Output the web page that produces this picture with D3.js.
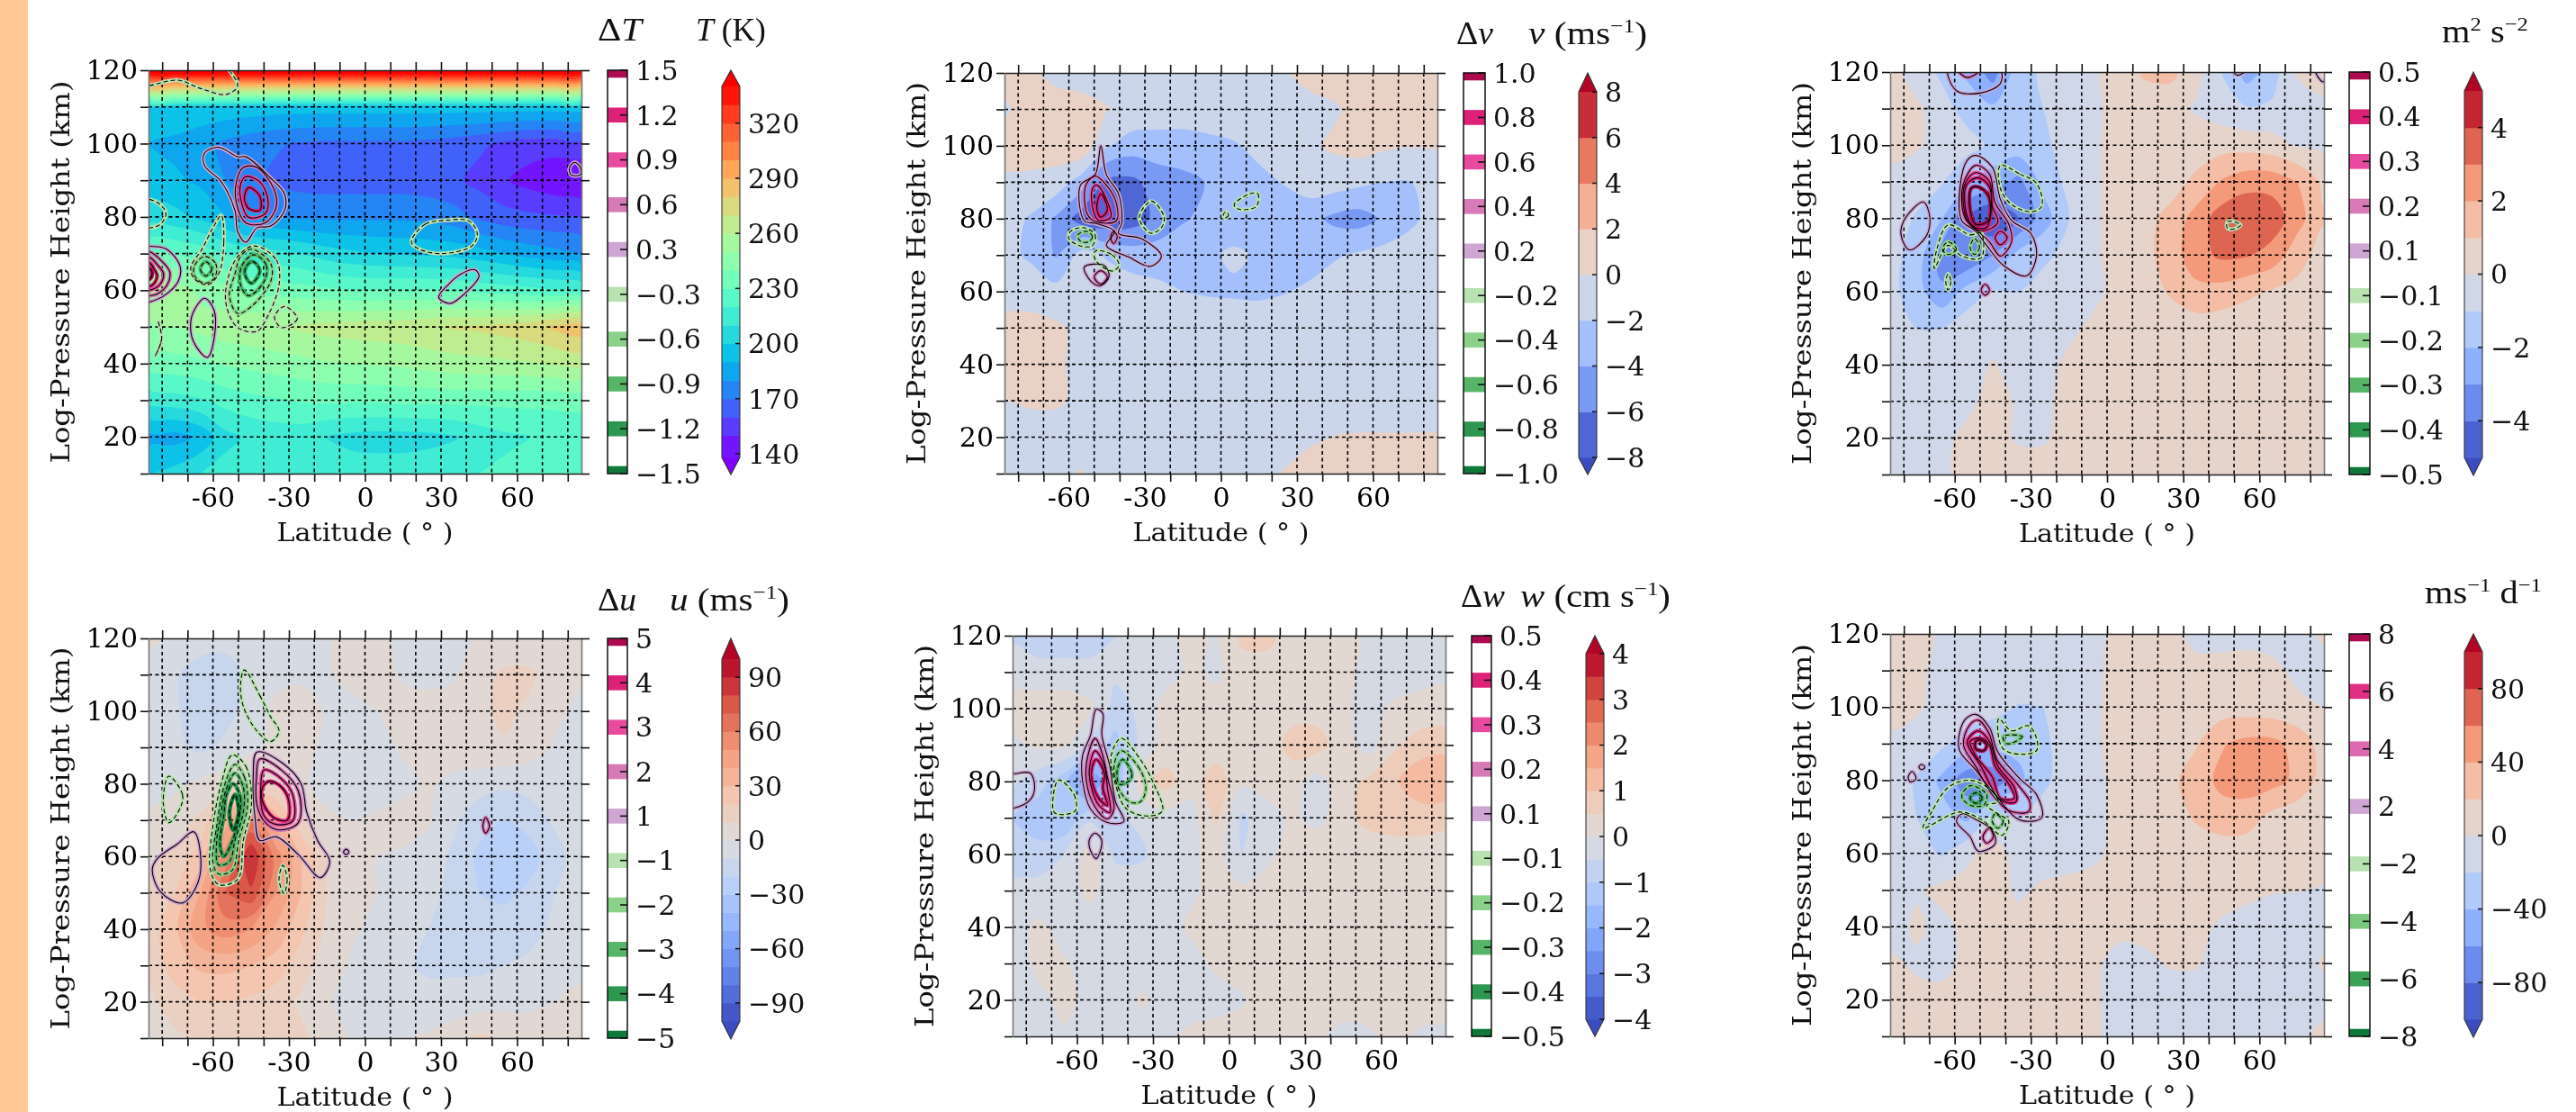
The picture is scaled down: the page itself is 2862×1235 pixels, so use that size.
<!DOCTYPE html>
<html>
<head>
<meta charset="utf-8">
<script src="https://cdn.jsdelivr.net/npm/d3@7"></script>
<style>
  html, body { margin: 0; padding: 0; background: #fff; overflow: hidden; }
  svg { display: block; filter: blur(0.5px); }
</style>
</head>
<body>
<svg id="chart" width="2862" height="1235"></svg>
<script>
// grid of the shaded fields: one column per latitude, one row per height (top row first)
const lats = [-85,-75,-65,-55,-45,-35,-25,-15,-5,5,15,25,35,45,55,65,75,85];
const heights = [120,110,100,90,80,70,60,50,40,30,20,10];
const latTicks = [-80,-70,-60,-50,-40,-30,-20,-10,0,10,20,30,40,50,60,70,80];
const latLabels = [-60,-30,0,30,60];
const heightTicks = [10,20,30,40,50,60,70,80,90,100,110,120];
const heightLabels = [20,40,60,80,100,120];

// T (K)
const tLevels = [138,150,160,170,180,190,200,210,220,230,240,250,260,270,280,290,300,310,320,330,340];
const tTicks = [140,170,200,230,260,290,320];
const tField = [
  [355,355,355,355,355,355,355,355,355,355,355,355,355,355,355,355,355,355],
  [200,200,198,197,196,195,195,195,195,195,195,195,195,195,195,195,195,195],
  [190,187,183,178,174,171,169,168,168,168,168,167,165,162,158,155,155,157],
  [195,192,188,180,172,168,166,165,165,165,165,164,162,157,151,146,142,140],
  [205,203,198,190,183,180,178,178,178,178,178,177,174,168,164,162,161,160],
  [232,230,226,220,215,213,210,205,202,200,199,198,197,194,190,186,183,180],
  [262,255,248,243,238,236,234,232,230,230,230,230,229,227,225,223,221,220],
  [248,250,253,256,258,260,262,264,265,266,267,269,271,272,274,277,282,286],
  [235,236,238,241,243,245,247,249,250,251,252,254,256,257,258,259,261,263],
  [214,216,219,224,227,229,231,232,232,232,233,233,233,233,233,233,233,233],
  [187,186,192,207,212,214,214,210,207,206,206,207,209,214,218,220,222,223],
  [200,204,210,214,216,216,216,215,215,215,215,216,218,220,222,224,225,226]
];
const dtTicks = [1.5,1.2,0.9,0.6,0.3,-0.3,-0.6,-0.9,-1.2,-1.5];
const dtLines = [
  [0.3,[[-63.3,97.4],[-57.8,99],[-50.2,96.4],[-47,96.4],[-37.2,90.6],[-31.7,86.2],[-31.7,81.8],[-37.2,77.5],[-42.6,77],[-47,73.1],[-50.2,76],[-51.3,81.8],[-56.7,89.6],[-63.3,94]]],
  [0.6,[[-48,93.5],[-42.6,93.5],[-36,87.7],[-35,82.8],[-39.3,78.4],[-47,78.4],[-50.7,83.8],[-50.7,89.6]]],
  [0.9,[[-47,91],[-41.5,89.6],[-38.3,84.8],[-39.3,80.9],[-45.9,79.9],[-49,84.8],[-49,89]]],
  [1.2,[[-45.9,88],[-41.5,85.7],[-41.5,81.8],[-45.9,82.3],[-47.6,85.2]]],
  [0.3,[[-90,72],[-85,72],[-78.5,71.3],[-73,66.7],[-73.7,62.4],[-79.5,58.4],[-85,56.8],[-90,56]]],
  [0.6,[[-90,70.5],[-85,70.5],[-81,68.5],[-77,65],[-78,61.5],[-82,59],[-85,58.5],[-90,58]]],
  [0.9,[[-90,69],[-85,69],[-82,67],[-79.5,64.5],[-81,61.5],[-85,60],[-90,60]]],
  [1.2,[[-90,68],[-85,67.5],[-83,65.5],[-82,64],[-83,62],[-85,61],[-90,61]]],
  [1.5,[[-90,66],[-85,66],[-84,64.5],[-85,63],[-90,63]]],
  [0.3,[[-63.3,57.8],[-59.6,54.7],[-59.3,47.9],[-62.2,41.7],[-67.6,45.9],[-68.7,51.7],[-66.5,55.6]]],
  [0.3,[[43.3,65.6],[45,63.9],[40,59.5],[33.5,56.4],[29.1,58.1],[32.8,61.5],[37.8,64.4]]],
  [0.3,[[82.8,94.9],[85,93.4],[85,91.5],[81.3,91.5],[80.7,93.4]]],
  [-0.3,[[-90,115.5],[-85,115.8],[-74,117.3],[-64.3,114.9],[-54.6,113.4],[-50.2,115.8],[-53.5,120],[-55,122],[-90,122]]],
  [-0.3,[[-90,85],[-85,84.8],[-80.7,83.3],[-78.5,80.9],[-80.7,78],[-85,77],[-90,77]]],
  [-0.3,[[18.3,73.1],[23.7,78],[32.4,79.1],[41,78.9],[44.3,75.5],[42.2,72.1],[30.2,70],[21.5,71.2]]],
  [-0.3,[[-56.7,80.4],[-55.7,73.1],[-57.8,64.4],[-62.2,61.5],[-67.6,63.4],[-68.7,66.3],[-64.3,71.2],[-60,77]]],
  [-0.6,[[-63.3,69.2],[-58.9,67.3],[-59.3,63.4],[-63.3,61.9],[-67.2,63.9],[-67.2,66.8]]],
  [-0.9,[[-62.8,67.8],[-60.4,65.8],[-62.8,63.9],[-65,65.8]]],
  [-0.3,[[-43.7,72.1],[-35,68.3],[-33.9,61.5],[-39.3,51.7],[-42.6,48.8],[-50.2,49.8],[-54.6,55.6],[-54.6,61.5],[-50.2,69.2]]],
  [-0.6,[[-44.8,71.2],[-37.2,67.3],[-37.2,62.4],[-44.8,55.6],[-50.2,53.7],[-53.5,58.5],[-51.3,64.4],[-49.1,69.2]]],
  [-0.9,[[-43.7,69.7],[-38.9,66.8],[-39.8,62.4],[-45.9,58.5],[-49.1,61.5],[-48.5,66.8]]],
  [-1.2,[[-44.1,67.8],[-41.5,65.3],[-44.8,61.9],[-47.4,64.4],[-46.5,66.8]]],
  [-0.3,[[-31.7,55.6],[-26.7,52.2],[-32.8,49.8],[-35.7,52.7]]],
  [-0.3,[[-81.7,51.7],[-80.2,46.9],[-82.8,42],[-80.2,46.8]]]
];

// v (m/s)
const vLevels = [-8,-6,-4,-2,0,2,4,6,8];
const vTicks = [-8,-6,-4,-2,0,2,4,6,8];
const vField = [
  [0.5,0.3,-0.5,-0.8,-0.8,-0.8,-0.8,-0.8,-0.8,-0.8,-0.7,-0.2,0.5,0.8,0.8,0.8,0.8,0.8],
  [-0.2,0.8,0.8,0.7,0.1,-0.5,-0.7,-0.8,-0.8,-0.8,-0.8,-0.7,-0.5,-0.2,0.6,0.8,0.8,0.8],
  [0.6,1,1,1.5,-1.8,-3,-3,-3,-2.6,-2.2,-1.5,-1,-0.3,0.3,0.8,0.3,0.1,0.1],
  [-0.3,-0.5,-0.8,-3,-6.5,-6.5,-5,-4.5,-3.9,-3,-2.5,-1.9,-1,-1,-1.6,-2,-2,-1],
  [-1.2,-2.2,-4.3,-7,-7.5,-7,-5.5,-4.2,-3.5,-3,-3,-3,-3.3,-4.5,-4.8,-3.6,-2.4,-1.2],
  [-1.5,-2.3,-4.2,-1.2,-2.2,-3,-3,-2.8,-2.3,-1.7,-2.2,-2.8,-2.7,-2.2,-1.7,-1.3,-1,-0.8],
  [-0.7,-0.9,-1.3,-0.8,-0.8,-1,-1.5,-2,-2.2,-2.3,-2.4,-2.1,-1.7,-1,-0.8,-0.7,-0.7,-0.7],
  [0.5,0.7,0.3,-0.5,-0.8,-0.8,-0.8,-0.8,-0.8,-0.8,-0.8,-0.8,-0.8,-0.8,-0.8,-0.8,-0.8,-0.8],
  [0.6,0.8,0.3,-0.5,-0.8,-0.8,-0.8,-0.8,-0.8,-0.8,-0.8,-0.8,-0.8,-0.8,-0.8,-0.8,-0.8,-0.8],
  [0,0.2,0.2,-0.3,-0.7,-0.7,-0.7,-0.7,-0.7,-0.7,-0.7,-0.7,-0.7,-0.7,-0.7,-0.7,-0.7,-0.7],
  [-0.7,-0.7,-0.7,-0.7,-0.7,-0.7,-0.7,-0.7,-0.7,-0.7,-0.7,-0.7,-0.3,0.05,0.1,0.1,0.1,0.1],
  [-0.7,-0.7,-0.4,0.1,-0.5,-0.7,-0.7,-0.7,-0.7,-0.7,-0.5,0.1,0.8,0.8,0.8,0.8,0.8,0.8]
];
const dvTicks = [1.0,0.8,0.6,0.4,0.2,-0.2,-0.4,-0.6,-0.8,-1.0];
const dvLines = [
  [0.2,[[-47.4,100],[-45.2,92.1],[-40.4,86.8],[-39.1,78.9],[-40.4,76],[-31.1,74.4],[-23.5,69.7],[-27.8,66.9],[-36.5,69.5],[-45.2,72.6],[-42,76.5],[-49.6,78.7],[-53.9,79.4],[-55.4,89.2],[-49.6,92.1]]],
  [0.4,[[-49.6,91.7],[-45.2,89.2],[-41.3,84.3],[-41.3,79.4],[-49.6,79.2],[-52.8,81.4],[-53.3,89.2]]],
  [0.6,[[-49,89.2],[-45.2,85.3],[-43.5,80.4],[-48.5,79.6],[-50.7,83.3],[-50.7,88.2]]],
  [0.8,[[-47.4,86.8],[-44.8,82.4],[-47.4,80.4],[-49,82.9]]],
  [0.4,[[-42.4,76.5],[-40.9,75],[-42.4,73.1],[-43.5,75]]],
  [0.2,[[-53.9,66.7],[-46.3,67.2],[-44.1,64.3],[-47.4,61.6],[-51.3,62.8]]],
  [0.4,[[-47.4,65.7],[-44.8,64],[-47.4,62],[-50,64]]],
  [-0.2,[[-53.9,77.5],[-49.6,75.5],[-50.7,72.6],[-55,72.4],[-60,74.5],[-59.3,76.5]]],
  [-0.4,[[-52.8,76.5],[-50.7,75],[-52.3,73.6],[-55.4,73.8],[-56.5,75.5]]],
  [-0.2,[[-49.6,71.1],[-43,70.1],[-40.2,67.2],[-43,65.6],[-49.6,68.7]]],
  [-0.2,[[-27.4,84.8],[-22.4,80.4],[-23.5,77.5],[-27.8,76],[-32.2,80.4]]],
  [-0.2,[[2,81.9],[3,80.9],[1.7,80.2],[0.9,80.9]]],
  [-0.2,[[11.3,86.8],[14.6,86.8],[13.9,83.3],[7,82.6],[5.2,83.8]]]
];

// kinetic energy (m2/s2)
const eLevels = [-5,-4,-3,-2,-1,0,1,2,3,4,5];
const eTicks = [-4,-2,0,2,4];
const eField = [
  [0.3,-0.5,-1.2,-2.2,-3.5,-1.5,-0.8,-0.5,-0.1,0.3,1.2,1.3,0.3,-1,-2.5,-1.5,0.1,0.5],
  [0.4,0.2,-0.6,-1.4,-1.8,-1.3,-1,-0.6,-0.1,0.2,0.3,0.3,-0.1,-0.5,-0.9,-0.8,-0.5,-0.3],
  [0.3,0.1,-0.3,-0.6,-1.2,-1.4,-1.2,-0.6,-0.1,0.3,0.4,0.4,0.5,0.6,0.6,0.4,-0.1,-0.2],
  [-0.3,-0.5,-0.9,-2,-2.5,-3.3,-1.7,-0.7,-0.1,0.3,0.5,0.6,1.2,2.1,2.6,2.6,2,0.8],
  [-0.5,-1.1,-2,-4,-5,-4,-2.5,-1,-0.1,0.3,0.7,1.3,2.4,3.5,3.9,3.6,2.4,1.1],
  [-0.7,-1.4,-3.5,-4,-3,-1.7,-1.2,-0.7,-0.1,0.3,0.7,1.5,2.6,3.2,3.1,2.6,1.4,0.6],
  [-0.7,-1.6,-2.8,-1.6,-0.9,-1,-0.6,-0.5,-0.2,0.3,0.6,1.1,1.7,1.6,1.2,0.9,0.7,0.3],
  [-0.5,-1,-1,-0.4,-0.3,-0.5,-0.5,-0.2,0.2,0.4,0.4,0.5,0.5,0.4,0.4,0.4,0.4,0.4],
  [-0.5,-0.5,-0.5,-0.3,0.05,-0.3,-0.3,0.2,0.4,0.4,0.4,0.4,0.4,0.4,0.4,0.4,0.4,0.4],
  [-0.5,-0.5,-0.4,-0.2,0.3,-0.1,-0.2,0.3,0.4,0.4,0.4,0.4,0.4,0.4,0.4,0.4,0.4,0.4],
  [-0.5,-0.5,-0.2,0.2,0.3,-0.1,-0.1,0.3,0.4,0.4,0.4,0.4,0.4,0.4,0.4,0.4,0.4,0.4],
  [-0.5,-0.4,-0.2,0.3,0.4,0.4,0.4,0.4,0.4,0.4,0.4,0.4,0.4,0.4,0.4,0.4,0.4,0.4]
];
const deTicks = [0.5,0.4,0.3,0.2,0.1,-0.1,-0.2,-0.3,-0.4,-0.5];
const deLines = [
  [0.1,[[-62.5,121],[-59.3,114.9],[-49.6,114.3],[-42,116.9],[-42,120.3]]],
  [0.2,[[-58.7,120.5],[-55,118.5],[-50,120.5]]],
  [0.1,[[-72.4,84.5],[-69.8,80.4],[-71.3,75],[-77.8,71.4],[-81.1,75.5],[-80,79.4]]],
  [0.1,[[-51.7,97.2],[-45.2,94],[-42,85.2],[-37.6,79.4],[-30,75.9],[-27.8,69.7],[-31.7,64.3],[-40.9,67.2],[-47.4,72.6],[-51.7,76.5],[-57.2,79.4],[-57.8,89.1],[-55,95.9]]],
  [0.2,[[-51.7,94.5],[-46.3,92.1],[-44.1,84.3],[-38.7,78.4],[-37.6,73.6],[-42,69.7],[-46.3,73.6],[-51.7,77],[-56.1,80.4],[-56.7,89.2]]],
  [0.3,[[-51.7,92.5],[-46.3,90.1],[-45.2,83.3],[-43,78.9],[-49.6,76.5],[-55,79.4],[-56.1,89.2]]],
  [0.4,[[-50.7,91.1],[-46.3,88.6],[-45.7,82.3],[-47.4,77.5],[-51.7,77.5],[-55,80.4],[-55.4,89.1]]],
  [0.5,[[-50.7,88.6],[-46.7,86.2],[-46.7,79.4],[-51.7,78.4],[-53.9,82.3],[-53.5,88.2]]],
  [0.3,[[-42,76.5],[-39.3,74.7],[-42,72.8],[-44.1,74.7]]],
  [0.2,[[-48,62],[-46.3,60.4],[-48,59],[-49.6,60.4]]],
  [0.1,[[82,120.5],[85,117.3],[87,120.5]]],
  [0.1,[[49.3,120.5],[51.5,119.1],[54.8,120.5]]],
  [-0.1,[[-42,94.5],[-34.3,92.1],[-27.8,89.6],[-25.7,83.3],[-30,81.8],[-37.6,83.8],[-42,88.2]]],
  [-0.1,[[-62.6,78.2],[-53.9,75.5],[-49.6,76],[-49.6,69.2],[-57.2,69.7],[-62.6,72.6],[-68,66.3],[-67,71.6]]],
  [-0.2,[[-62.6,73.6],[-59.3,71.6],[-62.6,70.1],[-64.8,71.6]]],
  [-0.2,[[-52.2,74.5],[-50.2,72.1],[-52.2,70.1],[-53.9,72.1]]],
  [-0.1,[[-62.6,64.8],[-61.5,62.8],[-62.6,60.4],[-63.5,62.8]]],
  [-0.1,[[47.6,79.2],[52.6,78.2],[49.3,77],[47.2,77.5]]]
];

// u (m/s)
const uLevels = [-100,-90,-80,-70,-60,-50,-40,-30,-20,-10,0,10,20,30,40,50,60,70,80,90,100];
const uTicks = [-90,-60,-30,0,30,60,90];
const uField = [
  [2,-2,-6,-7,-6,-3,-1,-1,3,2,-2,-4,-4,1,2,2,2,2],
  [-5,-9,-14,-14,-8,-3,-2,-1,3,3,-1,-2,-1,6,12,12,3,1],
  [-5,-9,-14,-13,-6,3,5,-1,-3,0,3,3,3,8,12,8,2,-2],
  [-4,-8,-12,-8,-2,2,3,-2,-5,-3,1,3,4,8,9,4,-1,-3],
  [-4,-2,2,6,12,8,2,-5,-8,-6,-2,1,-2,-6,-8,-6,-3,-2],
  [2,5,12,35,60,35,12,3,0,2,3,1,-8,-16,-20,-16,-8,-3],
  [8,12,25,55,90,55,30,10,2,0,-1,-4,-12,-22,-27,-24,-14,-5],
  [12,20,40,70,78,50,30,10,3,0,-2,-6,-14,-20,-22,-18,-10,-5],
  [15,28,48,55,50,38,22,8,1,-2,-7,-10,-16,-17,-16,-13,-8,-3],
  [12,25,32,33,30,25,15,4,-1,-4,-9,-11,-12,-12,-10,-8,-4,-1],
  [8,15,20,20,18,15,8,1,-3,-6,-8,-8,-6,-5,-3,-2,0,1],
  [5,8,12,12,18,20,12,5,-1,-3,-1,2,6,12,8,5,3,2]
];
const duTicks = [5,4,3,2,1,-1,-2,-3,-4,-5];
const duLines = [
  [1,[[-67.6,66.8],[-65,61.3],[-65.9,52.8],[-72,47.2],[-80.7,50.3],[-83.9,56.6],[-81.7,59.6],[-74.1,63.4]]],
  [1,[[-42.6,88.7],[-32.8,85.8],[-25.2,80],[-23,72.2],[-18.7,64.4],[-13.9,58.6],[-17.6,54.2],[-26.3,60.5],[-35,65.4],[-41.5,64.4],[-43.3,70.2],[-44.1,81.9]]],
  [2,[[-41.5,86.8],[-33,83.8],[-26.3,78],[-26.3,69.3],[-33.9,67.3],[-39.3,69.3],[-42.6,74.1],[-42.8,81.9]]],
  [3,[[-39.8,83.8],[-33,81.4],[-28.5,77],[-28.5,69.8],[-35,68.8],[-39.8,71.2],[-41.1,79]]],
  [4,[[-37.6,80.7],[-32.8,79],[-30,75.1],[-30.7,70],[-36.1,70.7],[-40.4,75.1],[-40.4,79]]],
  [1,[[-7.4,62],[-6.3,61.2],[-7.4,60.5],[-8.5,61.2]]],
  [2,[[47.6,70.7],[49.1,68.3],[47.6,66.4],[46.5,68.3]]],
  [-1,[[-77.4,82.1],[-72,77],[-73,73.2],[-77.4,69.3],[-79.6,75.1]]],
  [-1,[[-47.6,111.3],[-41.5,104.3],[-37.2,98.4],[-33.9,94.5],[-37.2,91.6],[-42.6,94.5],[-48,101.3],[-49.1,107.2]]],
  [-1,[[-52.4,87.9],[-47,84.8],[-44.8,74.1],[-48,64.4],[-50.2,53.7],[-57.8,52.3],[-61.1,56.6],[-60,68.3],[-56.7,80]]],
  [-2,[[-51.3,85.3],[-47.6,81.9],[-46.3,74.1],[-49.8,64.4],[-52.4,56.2],[-57.8,55.2],[-60,58.6],[-58.5,68.3],[-55.7,79]]],
  [-3,[[-51.3,82.9],[-48,79],[-48,72.2],[-51.3,64.4],[-53.5,58.6],[-57.8,57.7],[-58.5,64.4],[-57.2,70.2],[-55,78]]],
  [-4,[[-52,80],[-49.1,76.1],[-50.2,69.3],[-52.8,63.4],[-55.7,60],[-57.2,63.4],[-55.7,71.2],[-54.6,77]]],
  [-5,[[-51.3,77],[-49.8,72.2],[-52,67.3],[-53.5,72.2]]],
  [-1,[[-32.4,57.6],[-30.7,53.7],[-32,49.8],[-33.9,53.7]]]
];

// w (cm/s)
const wLevels = [-4,-3.5,-3,-2.5,-2,-1.5,-1,-0.5,0,0.5,1,1.5,2,2.5,3,3.5,4];
const wTicks = [-4,-3,-2,-1,0,1,2,3,4];
const wField = [
  [-0.6,-0.8,-0.8,-0.8,-0.5,-0.3,-0.2,0.2,-0.1,0.6,0.7,0.2,0.2,0.2,-0.1,-0.3,-0.3,-0.1],
  [-0.2,-0.3,-0.3,-0.3,-0.4,-0.2,-0.2,0.1,-0.1,0.3,0.2,0.1,0.1,0.1,-0.1,-0.3,-0.2,-0.1],
  [0.2,0.3,0.3,0.1,-0.7,-0.4,0.2,0.2,0.2,0.2,0.2,0.3,0.3,0.1,-0.2,0.1,0.2,0.2],
  [-0.1,0.1,0.1,-0.6,-1.2,-0.4,0.2,0.2,0.2,0.2,0.2,0.7,0.7,0.2,-0.2,0.4,0.7,0.8],
  [-0.4,-0.8,-1.3,-2.5,-1.5,0.3,0.7,0.2,0.8,0.1,0.2,0.2,-0.2,0.3,0.6,0.9,1.4,1.5],
  [-1,-1.3,-1.5,-0.6,-0.6,-0.4,-0.2,-0.2,0.6,-0.6,-0.2,0.1,-0.2,0.4,0.6,0.7,0.7,0.6],
  [-0.7,-0.8,-0.5,0.2,-0.6,-0.6,-0.2,-0.1,0.2,-0.5,-0.1,0.2,0.5,0.3,0.3,0.3,0.3,0.3],
  [-0.4,-0.3,-0.2,0.1,-0.2,-0.2,-0.2,-0.1,0.2,0.1,0.2,0.3,0.3,0.3,0.3,0.3,0.3,0.3],
  [-0.2,0.1,-0.2,-0.2,-0.2,-0.2,-0.2,0.1,0.2,0.2,0.3,0.3,0.3,0.3,0.3,0.3,0.3,0.3],
  [-0.2,0.1,0.05,-0.2,-0.2,-0.2,-0.2,-0.2,0.1,0.2,0.3,0.3,0.3,0.3,0.3,0.3,0.3,0.3],
  [-0.2,-0.1,0.1,-0.1,-0.2,0.05,-0.1,-0.2,-0.2,-0.05,0.2,0.3,0.3,0.3,0.3,0.3,0.3,0.3],
  [-0.2,-0.2,-0.05,-0.1,-0.2,-0.2,-0.1,0.1,0.2,0.2,0.2,0.2,0.1,-0.2,-0.1,0.2,-0.1,-0.2]
];
const dwTicks = [0.5,0.4,0.3,0.2,0.1,-0.1,-0.2,-0.3,-0.4,-0.5];
const dwLines = [
  [0.1,[[-85,82.1],[-78.5,82.3],[-76.7,78.3],[-78.5,74.9],[-85,72.6],[-90,72.6],[-90,82.1]]],
  [0.1,[[-52.4,99.8],[-49.8,98.6],[-50.2,92.8],[-47,84.1],[-44.8,74.4],[-41.5,69],[-48,68.7],[-54.6,72.4],[-57.8,80.2],[-57.8,87],[-54.6,92.8]]],
  [0.2,[[-52.8,91.8],[-50.2,88],[-48,81.2],[-45.4,72.4],[-48,69.7],[-52.8,72.9],[-56.3,80.2],[-55.7,87]]],
  [0.3,[[-52.8,88.4],[-49.1,84.1],[-48,78.3],[-47,71.5],[-51.3,73.4],[-54.6,79.2],[-55,84.1]]],
  [0.4,[[-52.4,86],[-49.1,82.1],[-49.8,78.3],[-48,73.4],[-51.3,75.3],[-54.1,80.2],[-54.1,83.6]]],
  [0.1,[[-52.8,65.8],[-50.2,63.7],[-52.4,58.8],[-55,61.7],[-55,64.2]]],
  [-0.1,[[-67.2,80.4],[-61.1,76.3],[-60.7,71.9],[-68.7,71.3],[-69.3,76.3]]],
  [-0.1,[[-42.6,91.8],[-35,86],[-29.6,79.2],[-26.3,71.9],[-31.7,70.5],[-40.4,72.4],[-44.8,79.2],[-46.5,87]]],
  [-0.2,[[-42.6,88.4],[-35.9,84.1],[-32.8,78.3],[-35,74.4],[-39.3,74.4],[-43.7,78.3],[-45.4,84.1]]],
  [-0.3,[[-42,86],[-38.3,82.1],[-39.3,80.2],[-43.3,79.2],[-44.1,83.1]]]
];

// acceleration (m/s/d)
const aLevels = [-100,-80,-60,-40,-20,0,20,40,60,80,100];
const aTicks = [-80,-40,0,40,80];
const aField = [
  [8,8,-4,-8,-8,-8,-8,-8,-5,5,8,5,-5,-8,-8,-8,-8,3],
  [8,3,-4,-8,-8,-8,-8,-6,-3,5,8,6,5,8,10,5,-5,-8],
  [5,2,-5,-8,-14,-21,-20,-8,-2,5,8,10,10,10,10,8,5,0],
  [-3,-6,-16,-30,-32,-35,-25,-8,-2,5,8,10,18,38,46,46,32,12],
  [-8,-22,-45,-72,-75,-45,-25,-8,-3,4,8,15,30,45,50,48,35,12],
  [-8,-20,-32,-45,-15,-22,-10,-8,-3,4,6,8,23,32,30,14,8,5],
  [-5,-12,-22,-5,10,-8,-8,-8,-3,5,5,5,7,8,8,8,6,5],
  [-5,-2,5,8,8,-3,3,6,6,6,6,6,6,6,4,1,0.5,-1],
  [-8,3,-5,5,6,6,6,6,6,6,6,6,4,-2,-6,-8,-8,-8],
  [3,-3,-6,5,6,6,6,6,4,-8,-4,2,2,-8,-10,-10,-10,2],
  [6,6,6,6,6,6,6,6,3,-8,-10,-10,-10,-10,-10,-10,-10,-8],
  [6,6,6,6,6,6,6,6,3,-8,-10,-10,-10,-10,-10,-10,-5,5]
];
const daTicks = [8,6,4,2,-2,-4,-6,-8];
const daLines = [
  [2,[[-76.7,82.4],[-75.2,80.4],[-77.4,79.5],[-78.3,80.9]]],
  [2,[[-73,84.3],[-71.7,83.6],[-73,82.9],[-74.1,83.6]]],
  [2,[[-51.7,98],[-46.3,94.4],[-43,87.7],[-34.3,80.4],[-27.8,76.1],[-25.7,69.8],[-34.3,69.1],[-43,75.1],[-51.7,82.8],[-58.3,88.6],[-56.1,96.4]]],
  [4,[[-50.7,96.4],[-46.3,92.5],[-43.4,85.7],[-35.4,79],[-30.4,74.1],[-31,71.4],[-38.7,71.7],[-45.2,76.1],[-51.7,83.8],[-56.5,89.6],[-54.3,94.9]]],
  [6,[[-50.7,93.5],[-46.3,90.6],[-43,83.8],[-36.5,78],[-35.9,74.1],[-41.9,74.6],[-49.6,83.8],[-55,90.6]]],
  [6,[[-49.6,91.5],[-46.3,89.6],[-44.1,83.8],[-38.7,79],[-36.5,75.1],[-42,75.1],[-45.2,80.9],[-51.7,86.7],[-53.9,90.6]]],
  [8,[[-49.6,91],[-47.4,89.6],[-48.5,88.1],[-51.7,88.6],[-51.7,90.6]]],
  [2,[[-57.2,70.8],[-51.7,69.3],[-45.2,66.4],[-44.1,62.6],[-50.7,60.6],[-53.9,64.5],[-59.3,68.8]]],
  [4,[[-46.3,66.9],[-44.8,64.5],[-47.4,62.8],[-48.9,64.5]]],
  [-2,[[-42.6,96.8],[-37.6,93.5],[-31,94.9],[-27.8,91.5],[-27.8,88.1],[-34.3,87.1],[-40.9,88.6],[-43,93.5]]],
  [-4,[[-40.9,92],[-33.3,92],[-37.6,90.1],[-39.8,90.1]]],
  [-2,[[-53.9,80],[-45.2,77],[-43,74.1],[-47.4,73.2],[-43,70.8],[-38.7,68.8],[-41.3,65],[-49.6,69.3],[-58.3,71.3],[-72.4,66.9],[-69.1,71.3],[-62.6,78]]],
  [-4,[[-53.9,78.5],[-47.4,76.1],[-48.5,73.2],[-53.9,73.2],[-57.2,75.6]]],
  [-6,[[-51.7,76.6],[-49.1,75.1],[-51.7,73.7],[-53.9,75.1]]],
  [-4,[[-44.1,70.8],[-40.9,68.8],[-43,66.9],[-45.2,68.8]]]
];

const fontSerif = '"DejaVu Serif", serif';
const fontMath = '"Liberation Serif", serif';
const svg = d3.select('#chart');

// matplotlib style colour maps
const coolwarm = d3.piecewise(d3.interpolateRgb, ['#3b4cc0','#6282ea','#8db0fe','#b9d0f9','#dddcdc','#f4c6af','#f49a7b','#d95847','#b40426']);
function rainbow(t) {
    const r = Math.min(1, Math.abs(2 * t - 0.5));
    const g = Math.sin(Math.PI * t);
    const b = Math.cos(Math.PI * t / 2);
    return d3.rgb(r * 255, g * 255, b * 255).formatHex();
}
const posColors = d3.piecewise(d3.interpolateRgb, ['#cfa5d3','#d87ab8','#e84a9f','#de2178','#ae0a50']);
const negColors = d3.piecewise(d3.interpolateRgb, ['#b8e2b0','#8bd18a','#56b567','#2c974f','#0d7a3a']);

function deltaColor(v, ticks) {
    const same = ticks.filter(d => Math.sign(d) === Math.sign(v)).map(Math.abs).sort(d3.ascending);
    const k = same.indexOf(Math.abs(v)) / (same.length - 1);
    return v > 0 ? posColors(k) : negColors(k);
}

// layout of the six panels; head entries are x, baseline, width, parts
const panels = [
    {left:165, right:646, top:78, bottom:526, field:tField, levels:tLevels, ticks:tTicks, cmap:rainbow,
     dTicks:dtTicks, dLines:dtLines, dBar:[675,697], bar:[802,822,78,96,508,527],
     head:[[664,45,49,[['Δ'],['T','i']]],[773,45,78,[['T','i'],[' (K)']]]]},
    {left:1116, right:1597, top:81, bottom:526, field:vField, levels:vLevels, ticks:vTicks, cmap:coolwarm,
     dTicks:dvTicks, dLines:dvLines, dBar:[1626,1650], bar:[1754,1774,81,102,508,527],
     head:[[1618,49,41,[['Δ'],['v','i']]],[1698,49,132,[['v','i'],[' (ms'],['−1','s'],[')']]]]},
    {left:2100, right:2582, top:80, bottom:527, field:eField, levels:eLevels, ticks:eTicks, cmap:coolwarm,
     dTicks:deTicks, dLines:deLines, dBar:[2610,2633], bar:[2738,2758,80,101,508,528],
     head:[[2713,47,96,[['m'],['2','s'],[' s'],['−2','s']]]]},
    {left:165, right:646, top:709, bottom:1153, field:uField, levels:uLevels, ticks:uTicks, cmap:coolwarm,
     dTicks:duTicks, dLines:duLines, dBar:[675,697], bar:[802,822,709,732,1134,1154],
     head:[[664,678,43,[['Δ'],['u','i']]],[744,678,133,[['u','i'],[' (ms'],['−1','s'],[')']]]]},
    {left:1125, right:1606, top:706, bottom:1151, field:wField, levels:wLevels, ticks:wTicks, cmap:coolwarm,
     dTicks:dwTicks, dLines:dwLines, dBar:[1635,1657], bar:[1762,1782,706,726,1132,1151],
     head:[[1623,674,49,[['Δ'],['w','i']]],[1689,674,167,[['w','i'],[' (cm s'],['−1','s'],[')']]]]},
    {left:2100, right:2582, top:704, bottom:1151, field:aField, levels:aLevels, ticks:aTicks, cmap:coolwarm,
     dTicks:daTicks, dLines:daLines, dBar:[2610,2633], bar:[2738,2758,704,724,1132,1152],
     head:[[2694,670,130,[['ms'],['−1','s'],[' d'],['−1','s']]]]}
];

function fmt(v, ticks) {
    const digits = ticks.some(d => !Number.isInteger(d)) || ticks[0] === 1 ? 1 : 0;
    return (v < 0 ? '\u2212' : '') + Math.abs(v).toFixed(digits);
}

function drawPanel(p, idx) {
    const g = svg.append('g').attr('class', 'panel' + idx);
    const x = d3.scaleLinear().domain([-85.4, 85.4]).range([p.left, p.right]);
    const y = d3.scaleLinear().domain([10, 120]).range([p.bottom, p.top]);
    const clipId = 'clip' + idx;
    svg.append('clipPath').attr('id', clipId).append('rect')
        .attr('x', p.left).attr('y', p.top)
        .attr('width', p.right - p.left).attr('height', p.bottom - p.top);

    // shaded field: contour bands from the grid
    const n = p.levels.length - 1;
    const bandColor = i => p.cmap((i + 0.5) / n);
    const nx = lats.length, ny = heights.length;
    const values = [];
    for (let r = ny - 1; r >= 0; r--) values.push(...p.field[r]);
    const cx = d3.scaleLinear().domain([0.5, nx - 0.5]).range([x(lats[0]), x(lats[nx - 1])]);
    const cy = d3.scaleLinear().domain([0.5, ny - 0.5]).range([y(heights[ny - 1]), y(heights[0])]);
    const smooth = d3.line().x(d => cx(d[0])).y(d => cy(d[1])).curve(d3.curveCatmullRomClosed.alpha(0.5));
    const contours = d3.contours().size([nx, ny]).thresholds(p.levels)(values);

    const fill = g.append('g').attr('clip-path', `url(#${clipId})`);
    fill.append('rect').attr('x', p.left).attr('y', p.top)
        .attr('width', p.right - p.left).attr('height', p.bottom - p.top)
        .attr('fill', p.cmap(0));
    contours.forEach((c, i) => {
        const d = c.coordinates.map(poly => poly.map(ring => smooth(ring.slice(0, -1))).join('')).join('');
        fill.append('path').attr('d', d).attr('fill-rule', 'evenodd')
            .attr('fill', i < n ? bandColor(i) : p.cmap(1));
    });

    // dashed grid
    const grid = g.append('g').attr('stroke', '#000').attr('stroke-width', 1.6).attr('stroke-dasharray', '4,3.5');
    grid.selectAll('.gx').data(latTicks).enter().append('line')
        .attr('x1', d => x(d)).attr('x2', d => x(d)).attr('y1', p.top).attr('y2', p.bottom);
    grid.selectAll('.gy').data(heightTicks.slice(1, -1)).enter().append('line')
        .attr('y1', d => y(d)).attr('y2', d => y(d)).attr('x1', p.left).attr('x2', p.right);

    // delta contours: coloured line with a thin black one on top
    const ringLine = d3.line().x(d => x(d[0])).y(d => y(d[1])).curve(d3.curveCatmullRomClosed.alpha(0.5));
    const lines = g.append('g').attr('clip-path', `url(#${clipId})`).attr('fill', 'none');
    p.dLines.forEach(l => {
        lines.append('path').attr('d', ringLine(l[1]))
            .attr('stroke', deltaColor(l[0], p.dTicks)).attr('stroke-width', 4.4);
    });
    p.dLines.forEach(l => {
        lines.append('path').attr('d', ringLine(l[1]))
            .attr('stroke', '#000').attr('stroke-width', 1.1)
            .attr('stroke-dasharray', l[0] < 0 ? '5,3' : null);
    });

    // axes
    const tickFont = s => s.attr('font-family', fontSerif).attr('font-size', 30).attr('fill', '#111');
    const axisStyle = s => {
        s.selectAll('.domain').attr('stroke', '#222').attr('stroke-width', 1.6);
        s.selectAll('.tick line').attr('stroke', '#111').attr('stroke-width', 1.6);
    };
    g.append('g').attr('transform', `translate(0,${p.bottom})`)
        .call(d3.axisBottom(x).tickValues(latTicks).tickSize(9).tickSizeOuter(0).tickPadding(7)
            .tickFormat(d => latLabels.includes(d) ? String(d) : ''))
        .call(axisStyle).call(tickFont);
    g.append('g').attr('transform', `translate(0,${p.top})`)
        .call(d3.axisTop(x).tickValues(latTicks).tickSize(9).tickSizeOuter(0).tickFormat(''))
        .call(axisStyle);
    g.append('g').attr('transform', `translate(${p.left},0)`)
        .call(d3.axisLeft(y).tickValues(heightTicks).tickSize(9).tickSizeOuter(0).tickPadding(3)
            .tickFormat(d => heightLabels.includes(d) ? String(d) : ''))
        .call(axisStyle).call(tickFont)
        .select('.domain').attr('stroke', '#777');
    g.append('g').attr('transform', `translate(${p.right},0)`)
        .call(d3.axisRight(y).tickValues(heightTicks).tickSize(9).tickSizeOuter(0).tickFormat(''))
        .call(axisStyle)
        .select('.domain').attr('stroke', '#777');

    g.append('text').attr('transform', `translate(${p.left - 98},${(p.top + p.bottom) / 2}) rotate(-90)`)
        .attr('text-anchor', 'middle').attr('dominant-baseline', 'central')
        .attr('font-family', fontSerif).attr('font-size', 28).attr('fill', '#111')
        .attr('textLength', 425).attr('lengthAdjust', 'spacingAndGlyphs')
        .text('Log-Pressure Height (km)');
    g.append('text').attr('x', (p.left + p.right) / 2).attr('y', p.bottom + 75)
        .attr('text-anchor', 'middle')
        .attr('font-family', fontSerif).attr('font-size', 28).attr('fill', '#111')
        .attr('textLength', 196).attr('lengthAdjust', 'spacingAndGlyphs')
        .text('Latitude ( \u00b0 )');

    drawDeltaBar(g, p);
    drawColorBar(g, p, bandColor, n);

    p.head.forEach(h => drawHead(g, h));
}

function drawDeltaBar(g, p) {
    const [x0, x1] = p.dBar;
    const pos = d3.scalePoint().domain(p.dTicks).range([p.top, p.bottom]);
    const bar = g.append('g');
    const half = 8.3;
    bar.append('rect').attr('x', x0).attr('y', p.top).attr('width', x1 - x0).attr('height', p.bottom - p.top).attr('fill', '#fff');
    bar.selectAll('.band').data(p.dTicks).enter().append('rect')
        .attr('x', x0).attr('width', x1 - x0)
        .attr('y', d => Math.max(p.top, pos(d) - half))
        .attr('height', d => Math.min(p.bottom, pos(d) + half) - Math.max(p.top, pos(d) - half))
        .attr('fill', d => deltaColor(d, p.dTicks));
    bar.append('rect').attr('x', x0).attr('y', p.top).attr('width', x1 - x0).attr('height', p.bottom - p.top)
        .attr('fill', 'none').attr('stroke', '#111').attr('stroke-width', 1.5);
    bar.selectAll('.tk').data(p.dTicks).enter().append('line')
        .attr('x1', x1 - 8).attr('x2', x1).attr('y1', d => pos(d)).attr('y2', d => pos(d))
        .attr('stroke', '#111').attr('stroke-width', 1.6);
    bar.selectAll('.lb').data(p.dTicks).enter().append('text')
        .attr('x', x1 + 9).attr('y', d => pos(d)).attr('dy', '0.36em')
        .attr('font-family', fontSerif).attr('font-size', 30).attr('fill', '#111')
        .text(d => fmt(d, p.dTicks));
}

function drawColorBar(g, p, bandColor, n) {
    const [x0, x1, tipTop, shTop, shBottom, tipBottom] = p.bar;
    const v = d3.scaleLinear().domain([p.levels[0], p.levels[n]]).range([shBottom, shTop]);
    const bar = g.append('g');
    const mid = (x0 + x1) / 2;
    bar.append('path').attr('d', `M${x0},${shTop}L${mid},${tipTop}L${x1},${shTop}Z`).attr('fill', p.cmap(1));
    bar.append('path').attr('d', `M${x0},${shBottom}L${mid},${tipBottom}L${x1},${shBottom}Z`).attr('fill', p.cmap(0));
    bar.selectAll('.band').data(d3.range(n)).enter().append('rect')
        .attr('x', x0).attr('width', x1 - x0)
        .attr('y', i => v(p.levels[i + 1]))
        .attr('height', i => v(p.levels[i]) - v(p.levels[i + 1]) + 0.5)
        .attr('fill', i => bandColor(i));
    bar.append('path')
        .attr('d', `M${x0},${shTop}L${mid},${tipTop}L${x1},${shTop}L${x1},${shBottom}L${mid},${tipBottom}L${x0},${shBottom}Z`)
        .attr('fill', 'none').attr('stroke', '#333').attr('stroke-width', 1.1);
    bar.selectAll('.tk').data(p.ticks).enter().append('line')
        .attr('x1', x1 - 5).attr('x2', x1).attr('y1', d => v(d)).attr('y2', d => v(d))
        .attr('stroke', '#111').attr('stroke-width', 1.5);
    bar.selectAll('.lb').data(p.ticks).enter().append('text')
        .attr('x', x1 + 9).attr('y', d => v(d)).attr('dy', '0.36em')
        .attr('font-family', fontSerif).attr('font-size', 30).attr('fill', '#111')
        .text(d => fmt(d, p.ticks));
}

// unit labels above the colour bars, squeezed to the measured width
function drawHead(g, h) {
    const t = g.append('text')
        .attr('font-family', fontMath).attr('font-size', 36).attr('fill', '#111');
    let shift = 0;
    h[3].forEach(part => {
        const span = t.append('tspan').text(part[0]);
        if (part[1] === 'i') span.attr('font-style', 'italic');
        if (part[1] === 's') {
            span.attr('font-size', 22).attr('dy', -13 - shift);
            shift = -13;
        } else if (shift !== 0) {
            span.attr('dy', -shift);
            shift = 0;
        }
    });
    const len = t.node().getComputedTextLength();
    t.attr('transform', `translate(${h[0]},${h[1]}) scale(${h[2] / len},1)`);
}

// orange strip on the left edge of the page
svg.append('rect').attr('x', 0).attr('y', 0).attr('width', 31).attr('height', 1235).attr('fill', '#ffc995');

panels.forEach(drawPanel);
</script>
</body>
</html>
